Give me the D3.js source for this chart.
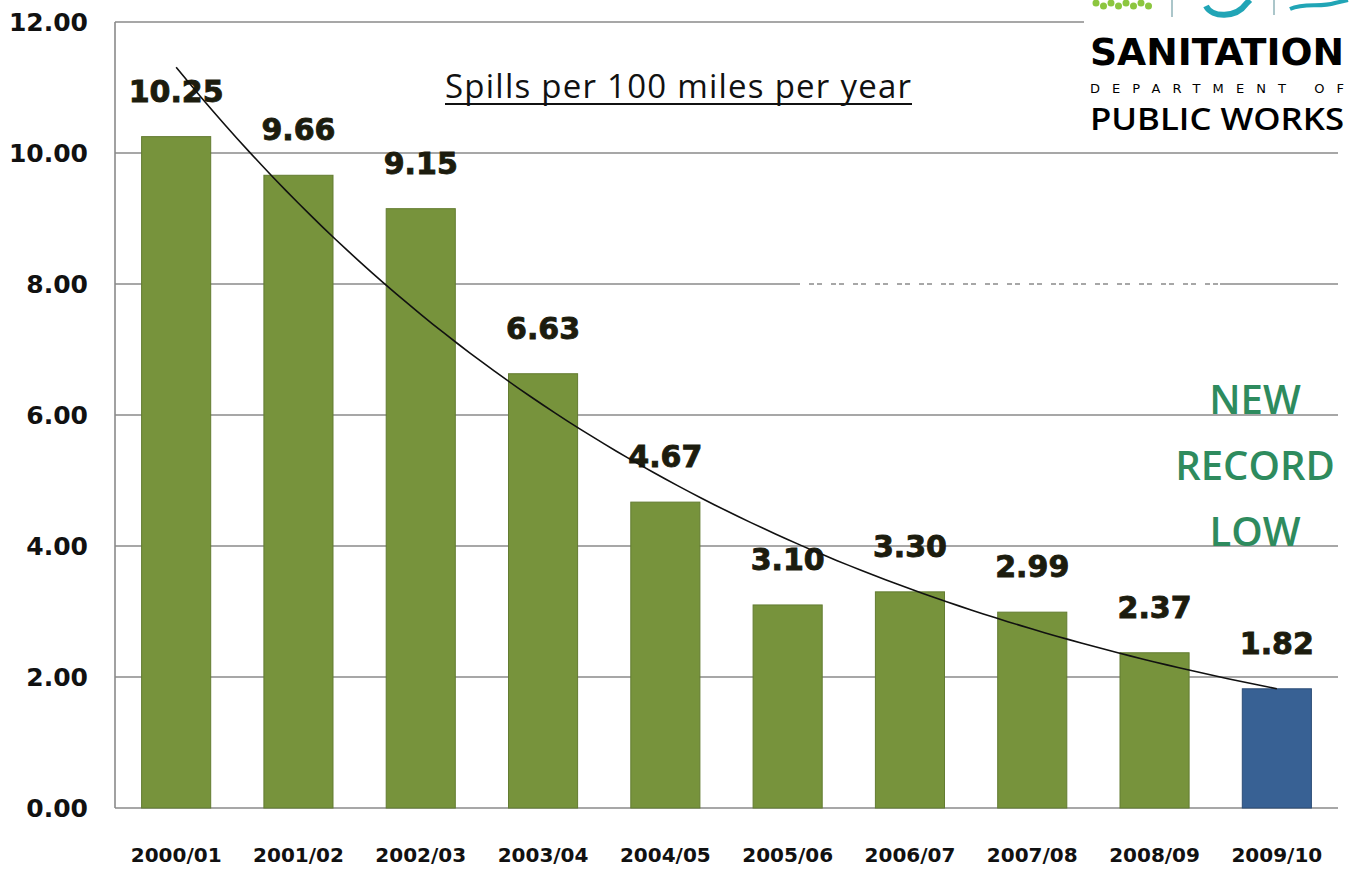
<!DOCTYPE html>
<html>
<head>
<meta charset="utf-8">
<script src="https://cdn.jsdelivr.net/npm/d3@7"></script>
<style>
  html, body { margin: 0; padding: 0; background: #fff; }
  svg { display: block; }
</style>
</head>
<body>
<svg id="chart" width="1350" height="874"></svg>
<script>
// data
const years = ['2000/01', '2001/02', '2002/03', '2003/04', '2004/05', '2005/06', '2006/07', '2007/08', '2008/09', '2009/10']
const spills = [10.25, 9.66, 9.15, 6.63, 4.67, 3.10, 3.30, 2.99, 2.37, 1.82]
const yTicks = [0, 2, 4, 6, 8, 10, 12]
const noteLines = ['NEW', 'RECORD', 'LOW']

// plot box
const plotLeft = 115, plotRight = 1338, plotTop = 22, plotBottom = 808

const svg = d3.select('#chart')

const x = d3.scaleBand()
            .domain(years)
            .range([plotLeft, plotRight])
            .paddingInner(0.435)
            .paddingOuter(0.2175)

const y = d3.scaleLinear()
            .domain([0, 12])
            .range([plotBottom, plotTop])

// gridlines
svg.append('g')
   .selectAll('line')
   .data(yTicks)
   .enter()
   .append('line')
     .attr('x1', plotLeft)
     .attr('x2', plotRight)
     .attr('y1', d => y(d))
     .attr('y2', d => y(d))
     .style('stroke', '#8a8a8a')
     .style('stroke-width', 1.6)

// odd faint dashes sitting on the 8.00 line
svg.append('line')
   .attr('x1', 800).attr('x2', 1220)
   .attr('y1', y(8)).attr('y2', y(8))
   .style('stroke', '#fff')
   .style('stroke-width', 2)
   .style('stroke-dasharray', '9 5 3 5')

// left axis line
svg.append('line')
   .attr('x1', plotLeft).attr('x2', plotLeft)
   .attr('y1', plotTop).attr('y2', plotBottom)
   .style('stroke', '#8a8a8a')
   .style('stroke-width', 1.6)

// y tick labels
const yAxis = d3.axisLeft(y)
                .tickValues(yTicks)
                .tickFormat(d3.format('.2f'))
                .tickSize(0)
                .tickPadding(27)
svg.append('g')
   .attr('transform', `translate(${plotLeft}, 0)`)
   .call(yAxis)
   .call(g => g.select('.domain').remove())
   .selectAll('text')
     .style('font-family', '"DejaVu Sans", sans-serif')
     .style('font-weight', 'bold')
     .style('font-size', '25px')
     .style('fill', '#111')

// x tick labels
const xAxis = d3.axisBottom(x).tickSize(0).tickPadding(40)
svg.append('g')
   .attr('transform', `translate(0, ${plotBottom})`)
   .call(xAxis)
   .call(g => g.select('.domain').remove())
   .selectAll('text')
     .style('font-family', '"DejaVu Sans", sans-serif')
     .style('font-weight', 'bold')
     .style('font-size', '20px')
     .style('fill', '#111')

// bars
svg.append('g')
   .selectAll('rect')
   .data(spills)
   .enter()
   .append('rect')
     .attr('x', (d, i) => x(years[i]))
     .attr('width', x.bandwidth())
     .attr('y', d => y(d))
     .attr('height', d => y(0) - y(d))
     .attr('fill', (d, i) => i === spills.length - 1 ? '#386194' : '#77933c')
     .style('stroke', (d, i) => i === spills.length - 1 ? '#2c4d77' : '#637c31')
     .style('stroke-width', 1)

// value labels (under the trendline, it crosses some of them)
svg.append('g')
   .selectAll('text')
   .data(spills)
   .enter()
   .append('text')
     .text(d => d.toFixed(2))
     .attr('x', (d, i) => x(years[i]) + x.bandwidth() / 2)
     .attr('y', d => y(d) - 35)
     .attr('text-anchor', 'middle')
     .style('font-family', '"DejaVu Sans", sans-serif')
     .style('font-weight', 'bold')
     .style('font-size', '30px')
     .style('fill', '#1c1c0e')
     .style('stroke', '#1c1c0e')
     .style('stroke-width', 0.9)

// exponential trendline (least squares on log values, like excel)
const n = spills.length
const lx = d3.range(n)
const ly = spills.map(v => Math.log(v))
const mx = d3.mean(lx), my = d3.mean(ly)
const slope = d3.sum(lx, (v, i) => (v - mx) * (ly[i] - my)) / d3.sum(lx, v => (v - mx) * (v - mx))
const icpt = my - slope * mx
const xi = d3.scaleLinear()
             .domain([0, n - 1])
             .range([x(years[0]) + x.bandwidth() / 2, x(years[n - 1]) + x.bandwidth() / 2])
const trend = d3.range(0, n - 1 + 0.001, 0.1).map(t => [xi(t), y(Math.exp(icpt + slope * t))])
svg.append('path')
   .attr('d', d3.line()(trend))
   .style('fill', 'none')
   .style('stroke', '#111')
   .style('stroke-width', 1.6)

// title
svg.append('text')
   .text('Spills per 100 miles per year')
   .attr('x', 678)
   .attr('y', 98)
   .attr('text-anchor', 'middle')
   .attr('textLength', 466)
   .style('font-family', '"Open Sans", sans-serif')
   .style('font-size', '33px')
   .style('fill', '#111')
svg.append('line')
   .attr('x1', 445).attr('x2', 912)
   .attr('y1', 104).attr('y2', 104)
   .style('stroke', '#111')
   .style('stroke-width', 2)

// NEW RECORD LOW note
svg.append('g')
   .selectAll('text')
   .data(noteLines)
   .enter()
   .append('text')
     .text(d => d)
     .attr('x', 1255)
     .attr('y', (d, i) => 414 + i * 66)
     .attr('text-anchor', 'middle')
     .style('font-family', '"Open Sans", sans-serif')
     .style('font-weight', 600)
     .style('font-size', '40px')
     .style('fill', '#2e8b5e')

// logo block (top right)
const logo = svg.append('g')
logo.append('rect')
    .attr('x', 1084).attr('y', 0).attr('width', 266).attr('height', 140)
    .attr('fill', '#fff')
logo.selectAll('circle')
    .data(d3.range(8))
    .enter()
    .append('circle')
      .attr('cx', d => 1096 + d * 7.5)
      .attr('cy', d => 3 + (d % 2) * 3)
      .attr('r', 3.5)
      .attr('fill', '#8cc63f')
logo.append('line')
    .attr('x1', 1172).attr('x2', 1172).attr('y1', 0).attr('y2', 17)
    .style('stroke', '#8fb3b8').style('stroke-width', 1.5)
logo.append('line')
    .attr('x1', 1274).attr('x2', 1274).attr('y1', 0).attr('y2', 15)
    .style('stroke', '#8fb3b8').style('stroke-width', 1.5)
logo.append('path')
    .attr('d', 'M1206,6 C1212,18 1236,18 1246,4 L1250,0')
    .style('fill', 'none').style('stroke', '#21a5b6').style('stroke-width', 6)
logo.append('path')
    .attr('d', 'M1290,9 C1305,2 1320,8 1335,3 L1348,0')
    .style('fill', 'none').style('stroke', '#21a5b6').style('stroke-width', 4)
logo.append('text')
    .text('SANITATION')
    .attr('x', 1090).attr('y', 65)
    .attr('textLength', 254)
    .attr('lengthAdjust', 'spacingAndGlyphs')
    .style('font-family', '"DejaVu Sans", sans-serif')
    .style('font-weight', 'bold')
    .style('font-size', '38px')
    .style('fill', '#000')
logo.append('text')
    .text('DEPARTMENT OF')
    .attr('x', 1090).attr('y', 93)
    .attr('textLength', 254)
    .style('font-family', '"DejaVu Sans", sans-serif')
    .style('font-size', '13px')
    .style('fill', '#000')
logo.append('text')
    .text('PUBLIC WORKS')
    .attr('x', 1090).attr('y', 130)
    .attr('textLength', 254)
    .attr('lengthAdjust', 'spacingAndGlyphs')
    .style('font-family', '"Open Sans", sans-serif')
    .style('font-weight', 600)
    .style('font-size', '31px')
    .style('fill', '#000')
</script>
</body>
</html>
